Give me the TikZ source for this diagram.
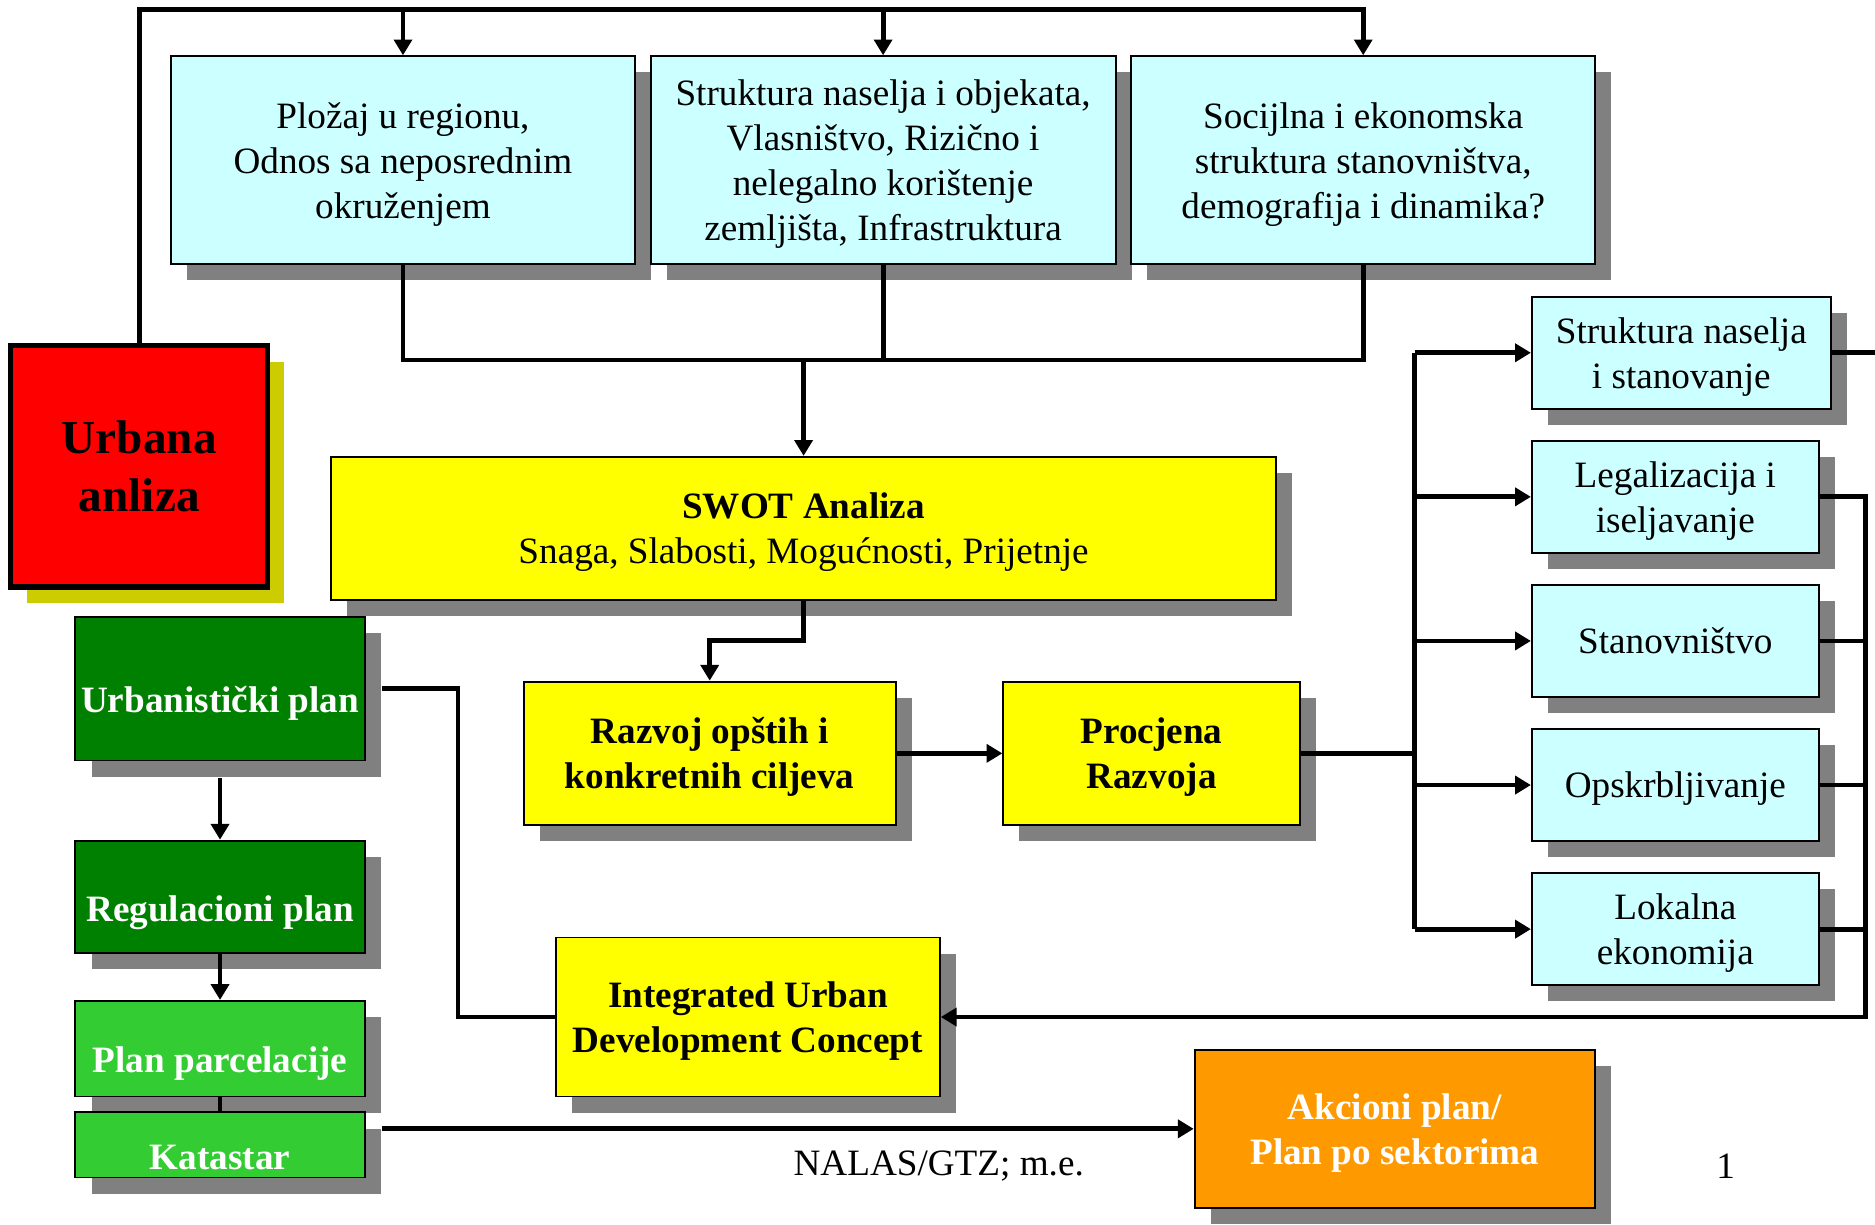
\documentclass[tikz,border=0pt]{standalone}
\usepackage{fontspec}
\setmainfont{Liberation Serif}
\usepackage{tikz}
\usetikzlibrary{arrows.meta,shadows}

\definecolor{lightcyan}{HTML}{CCFFFF}
\definecolor{boxyellow}{HTML}{FFFF00}
\definecolor{darkgreen}{HTML}{008000}
\definecolor{lightgreen}{HTML}{33CC33}
\definecolor{boxorange}{HTML}{FF9900}
\definecolor{shadowgray}{HTML}{808080}
\definecolor{olive}{HTML}{CCCC00}

\begin{document}
\begin{tikzpicture}[x=0.02cm, y=-0.02cm, font=\fontsize{17.7}{21.4}\selectfont,
	box/.style={draw, line width=0.9pt, align=center, inner sep=0pt, text depth=-4.3pt,
		drop shadow={shadow xshift=0.27cm, shadow yshift=-0.27cm, fill=shadowgray, opacity=1}},
	planbox/.style={box, text=white, font=\fontsize{17.7}{21.4}\selectfont\bfseries, text depth=4pt,
		execute at begin node={\rule{0pt}{27pt}}},
	conn/.style={line width=2.3pt},
	arr/.style={conn, -{Triangle[length=7.5pt,width=8.5pt]}}]
	\useasboundingbox (0,0) rectangle (1568,1024);

	% analysis boxes on top
	\node[box, fill=lightcyan, minimum width=7.76cm, minimum height=3.48cm] (pol) at (337,134)
		{Pložaj u regionu,\\Odnos sa neposrednim\\okruženjem};
	\node[box, fill=lightcyan, minimum width=7.78cm, minimum height=3.48cm] (str) at (738.5,134)
		{Struktura naselja i objekata,\\Vlasništvo, Rizično i\\nelegalno korištenje\\zemljišta, Infrastruktura};
	\node[box, fill=lightcyan, minimum width=7.76cm, minimum height=3.48cm] (soc) at (1140,134)
		{Socijlna i ekonomska\\struktura stanovništva,\\demografija i dinamika?};

	\node[draw, line width=2.5pt, fill=red, align=center, minimum width=4.3cm, minimum height=4.04cm,
		font=\fontsize{22.5}{27.3}\selectfont\bfseries,
		drop shadow={shadow xshift=0.27cm, shadow yshift=-0.27cm, fill=olive, opacity=1}] (ua) at (116.5,390)
		{Urbana\\anliza};

	\node[box, fill=boxyellow, minimum width=15.8cm, minimum height=2.4cm] (swot) at (672,442)
		{\textbf{SWOT Analiza}\\Snaga, Slabosti, Mogućnosti, Prijetnje};
	\node[box, fill=boxyellow, font=\fontsize{17.7}{21.4}\selectfont\bfseries, minimum width=6.22cm, minimum height=2.4cm] (raz) at (593.5,630)
		{Razvoj opštih i\\konkretnih ciljeva};
	\node[box, fill=boxyellow, font=\fontsize{17.7}{21.4}\selectfont\bfseries, minimum width=4.96cm, minimum height=2.4cm] (pro) at (963,630)
		{Procjena\\Razvoja};
	\node[box, fill=boxyellow, font=\fontsize{17.7}{21.4}\selectfont\bfseries, minimum width=6.42cm, minimum height=2.66cm,
		text depth=-8pt] (iudc) at (625.5,850.5)
		{Integrated Urban\\Development Concept};

	% sectors on the right
	\node[box, fill=lightcyan, minimum width=5cm, minimum height=1.88cm] (s1) at (1406,295) {Struktura naselja\\i stanovanje};
	\node[box, fill=lightcyan, minimum width=4.8cm, minimum height=1.88cm] (s2) at (1401,415.5) {Legalizacija i\\iseljavanje};
	\node[box, fill=lightcyan, minimum width=4.8cm, minimum height=1.88cm] (s3) at (1401,536) {Stanovništvo};
	\node[box, fill=lightcyan, minimum width=4.8cm, minimum height=1.88cm] (s4) at (1401,656.5) {Opskrbljivanje};
	\node[box, fill=lightcyan, minimum width=4.8cm, minimum height=1.88cm] (s5) at (1401,777) {Lokalna\\ekonomija};

	% plans on the left
	\node[planbox, fill=darkgreen, minimum width=4.84cm, minimum height=2.4cm] (urp) at (184,576) {Urbanistički plan};
	\node[planbox, fill=darkgreen, minimum width=4.84cm, minimum height=1.88cm] (regp) at (184,750) {Regulacioni plan};
	\node[planbox, fill=lightgreen, minimum width=4.84cm, minimum height=1.6cm] (parc) at (184,877) {Plan parcelacije};
	\node[planbox, fill=lightgreen, minimum width=4.84cm, minimum height=1.06cm,
		execute at begin node={\rule{0pt}{26.5pt}}] (kat) at (184,957.5) {Katastar};

	\node[box, fill=boxorange, text=white, font=\fontsize{17.7}{21.4}\selectfont\bfseries, minimum width=6.7cm, minimum height=2.64cm,
		text depth=-5.8pt] (akc) at (1166.5,944)
		{Akcioni plan/\\Plan po sektorima};

	\node (foot) at (785,975) {NALAS/GTZ; m.e.};
	\node (pgnum) at (1443,975) {1};

	% connectors
	\coordinate (loop) at (116.5,8);
	\draw[arr] (ua.north) -- (loop) -| (soc.north);
	\draw[arr] (pol.north |- loop) -- (pol.north);
	\draw[arr] (str.north |- loop) -- (str.north);

	\coordinate (join) at (672,301);
	\draw[conn] (pol.south) |- (join) -| (soc.south);
	\draw[conn] (str.south) -- (str.south |- join);
	\draw[arr] (join) -- (swot.north);

	\draw[arr] (swot.south) -- ++(0,33) -| (raz.north);
	\draw[arr] (raz) -- (pro);

	\coordinate (bus) at (1183,0);
	\draw[conn] (pro.east) -- (bus |- pro.east);
	\draw[conn] (bus |- s1.west) -- (bus |- s5.west);
	\foreach \n in {s1,s2,s3,s4,s5}
		\draw[arr] (bus |- \n.west) -- (\n.west);

	\coordinate (rbus) at (1560,0);
	\coordinate (redge) at (1568,0);
	\draw[conn] (s1.east) -- (redge |- s1.east);
	\draw[arr] (s2.east) -| (rbus |- iudc.east) -- (iudc.east);
	\foreach \n in {s3,s4,s5}
		\draw[conn] (\n.east) -- (rbus |- \n.east);

	\coordinate (lbus) at (383,0);
	\draw[conn] ([xshift=0.27cm]urp.east) -| (lbus |- iudc.west) -- (iudc.west);
	\draw[arr] ([yshift=-0.27cm]urp.south) -- (regp.north);
	\draw[arr] (regp) -- (parc);
	\draw[conn] (parc) -- (kat);
	\draw[arr] ([xshift=0.27cm]kat.east |- akc.west) -- (akc.west);
\end{tikzpicture}
\end{document}
